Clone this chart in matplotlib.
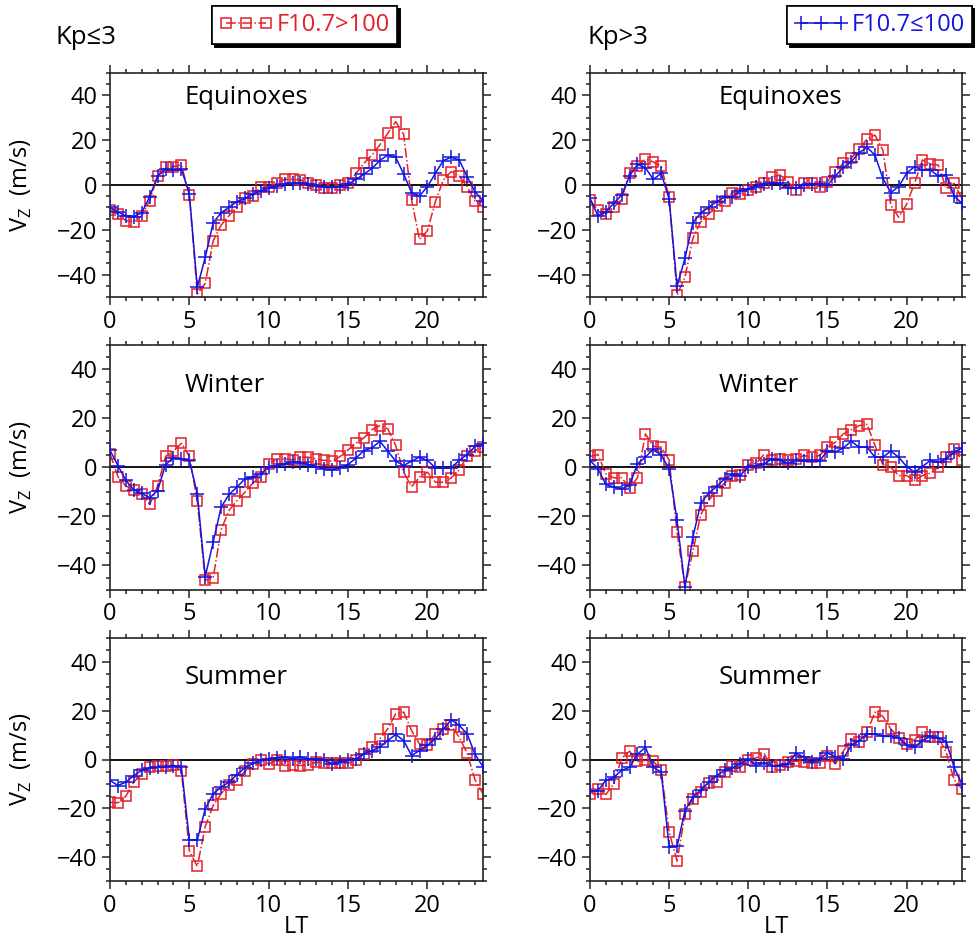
import numpy as np
import matplotlib
matplotlib.use("Agg")
import matplotlib.pyplot as plt
from matplotlib.lines import Line2D
from matplotlib.ticker import MultipleLocator

plt.rcParams['font.family'] = ['Open Sans', 'DejaVu Sans']
plt.rcParams['mathtext.fontset'] = 'custom'
plt.rcParams['mathtext.rm'] = 'Open Sans'

# Local time grid (hours)
local_time = np.arange(0, 24, 0.5)

# Vertical drift Vz (m/s); "hi" = F10.7>100, "lo" = F10.7<=100
# Kp<=3
eq_kplow_hi = [-11, -13, -15.9, -16.4, -13.7, -7.1, 4.2, 8.2, 8.2, 8.9, -4.5, -48.7, -43.9, -24.9, -17.9, -13.7,
               -9.7, -6.0, -4.9, -0.7, -0.7, 0.7, 2.5, 2.5, 2.2, 1.0, 0.0, -1.2, -1.2, 0.0, 1.0, 5.2,
               9.7, 13.4, 17.9, 23.1, 28.3, 22.6, -6.7, -24.3, -20.4, -7.4, 2.2, 6.0, 4.0, -0.7, -7.1, -9.7]
eq_kplow_lo = [-10, -12, -13.8, -14.1, -12.4, -5.2, 4.0, 7.0, 6.7, 7.0, -4.0, -45.7, -32.3, -16.8, -12.4, -10.0,
               -7.4, -6.0, -4.0, -2.5, -1.5, -0.3, 0.3, 0.7, 1.0, 0.4, -0.3, -0.7, -1.0, -0.7, 0.4, 2.5,
               4.8, 7.4, 10.9, 13.4, 12.4, 4.9, -3.4, -4.9, -0.7, 5.2, 10.9, 12.4, 11.2, 3.7, -3.0, -7.0]
wi_kplow_hi = [5.6, -3.7, -7.6, -9.0, -11.0, -15.1, -7.6, 4.5, 6.7, 9.9, 4.5, -13.7, -46.0, -45.0, -25.4, -17.5,
               -13.5, -10.1, -6.4, -3.7, 1.5, 3.5, 3.5, 3.1, 4.2, 4.2, 3.4, 2.9, 2.6, 4.5, 7.2, 9.9,
               12.1, 15.4, 17.1, 15.8, 9.0, -1.9, -7.8, -3.9, -1.9, -6.0, -6.0, -4.2, -1.0, 4.5, 6.9, 8.3]
wi_kplow_lo = [7.0, 0.8, -5.3, -9.1, -10.5, -12.4, -9.4, 1.2, 3.9, 3.5, 2.9, -10.7, -44.5, -30.5, -16.2, -11.0,
               -8.0, -4.6, -3.9, -2.6, 0.1, 0.8, 1.5, 2.2, 2.0, 1.2, 0.4, -0.7, -1.0, -0.1, 1.2, 3.9,
               6.9, 8.0, 10.7, 6.7, 2.6, 0.8, 2.6, 4.2, 2.9, -0.1, -0.1, -0.1, 2.9, 5.3, 8.6, 9.7]
su_kplow_hi = [-17.6, -17.8, -15.1, -9.3, -5.9, -3.2, -2.5, -2.5, -2.1, -4.8, -37.7, -44.0, -27.6, -18.9, -14.1, -10.3,
               -8.4, -4.8, -1.8, -0.4, -1.8, -0.4, -2.5, -2.1, -2.5, -2.1, -1.1, -1.5, -1.5, -1.5, -1.5, -0.4,
               2.3, 5.1, 8.5, 12.6, 18.8, 19.5, 11.9, 6.4, 5.8, 10.6, 12.6, 14.0, 9.2, 2.6, -8.4, -14.1]
su_kplow_lo = [-8.6, -10.7, -9.3, -6.6, -4.5, -3.4, -3.2, -3.2, -2.5, -3.2, -33.1, -33.1, -20.3, -14.1, -11.4, -9.3,
               -6.2, -3.4, -1.5, -0.4, 0.3, 0.7, 1.0, 0.3, 1.0, 0.3, 0.3, -0.4, -1.8, -1.1, -0.4, 0.3,
               2.3, 3.7, 5.1, 7.8, 10.3, 7.8, 1.6, 3.7, 5.8, 8.5, 12.6, 16.3, 14.0, 10.6, 2.1, -3.0]
# Kp>3
eq_kphigh_hi = [-6.7, -11.2, -12.9, -10.0, -6.4, 5.5, 8.5, 11.5, 10.3, 8.3, -5.5, -49.0, -41.2, -23.7, -16.4, -13.0,
                -9.4, -7.0, -3.4, -4.0, -2.2, -0.7, 1.0, 3.4, 4.5, 1.5, -2.2, 1.0, 1.0, -0.7, 1.5, 6.0,
                9.7, 11.9, 16.1, 20.5, 22.3, 15.6, -8.9, -14.4, -8.6, 0.7, 11.2, 9.3, 8.9, -1.5, 0.7, -6.0]
eq_kphigh_lo = [-6.0, -13.7, -11.9, -8.2, -4.5, 4.0, 9.2, 7.7, 2.5, 5.2, -6.4, -45.1, -32.7, -16.8, -12.4, -10.0,
                -7.4, -5.5, -5.2, -2.5, -1.9, -0.7, 0.3, 0.7, 0.7, -1.5, -1.5, 0.0, 0.4, 0.4, 0.0, 4.0,
                7.9, 10.4, 14.4, 16.8, 13.4, 3.0, -3.4, -0.7, 5.2, 8.2, 6.7, 6.7, 4.0, 4.5, -4.9, -8.2]
wi_kphigh_hi = [4.5, 5.3, -2.6, -4.2, -4.2, -8.3, -4.2, 13.7, 8.6, 8.3, 3.1, -26.4, -48.8, -34.1, -19.2, -13.5,
                -9.4, -6.4, -3.3, -2.9, 1.2, 1.8, 5.3, 2.9, 3.5, 2.9, 3.5, 4.9, 4.2, 4.9, 8.3, 10.3,
                13.7, 15.4, 17.1, 17.6, 9.0, 1.2, 0.1, -3.3, -3.3, -5.3, -3.3, -2.3, 0.1, 4.2, 7.6, 2.9]
wi_kphigh_lo = [2.9, -0.5, -6.9, -8.0, -8.7, -7.3, 1.5, 4.2, 7.6, 4.9, -0.5, -21.6, -48.6, -28.4, -14.6, -10.5,
                -7.8, -4.6, -2.6, -3.3, 0.4, 0.8, 1.5, 3.5, 2.9, 1.8, 2.9, 2.6, 2.9, 2.6, 6.9, 6.3,
                8.0, 10.7, 8.3, 8.3, 4.2, 4.2, 6.7, 4.2, 0.4, -1.9, 0.4, 2.9, 2.2, 3.5, 6.3, 8.0]
su_kphigh_hi = [-14.0, -12.1, -14.4, -10.0, 0.7, 3.4, -0.7, -0.4, -0.7, -4.5, -29.9, -41.8, -22.4, -16.2, -13.4, -9.7,
                -9.3, -5.2, -2.5, -3.2, -0.4, 0.7, 2.3, -2.9, -2.1, -1.1, -0.7, -1.1, -1.5, -1.5, 1.6, -1.8,
                3.4, 8.5, 7.1, 11.2, 19.5, 17.7, 12.6, 8.9, 6.4, 8.1, 11.2, 9.2, 9.2, 3.0, -8.4, -12.1]
su_kphigh_lo = [-12.8, -12.8, -8.6, -7.3, -4.5, -3.2, 2.1, 5.1, -3.2, -5.2, -36.1, -35.8, -21.0, -15.5, -12.5, -9.3,
                -6.6, -4.5, -3.4, -1.8, 0.3, -2.5, -1.5, -2.5, -2.5, -1.8, 2.6, 1.0, -1.1, 0.3, 2.6, 1.2,
                0.3, 5.8, 7.8, 10.3, 10.6, 9.5, 9.5, 8.9, 5.8, 5.1, 7.8, 9.5, 8.9, 7.4, -3.2, -10.3]

seasons = ["Equinoxes", "Winter", "Summer"]
column_titles = ["Kp\u22643", "Kp>3"]
label_hi = "F10.7>100"
label_lo = "F10.7\u2264100"

panels = [
    [(eq_kplow_hi, eq_kplow_lo), (eq_kphigh_hi, eq_kphigh_lo)],
    [(wi_kplow_hi, wi_kplow_lo), (wi_kphigh_hi, wi_kphigh_lo)],
    [(su_kplow_hi, su_kplow_lo), (su_kphigh_hi, su_kphigh_lo)],
]

RED = '#e3202a'
BLUE = '#1414e0'
W, H = 975, 940

fig = plt.figure(figsize=(W / 100, H / 100), dpi=100)

col_x = [(110, 483), (590, 962)]
row_y = [(73, 297), (345, 590), (638, 881)]
title_x = [4.7, 8.1]
title_y = [39.0, 33.5, 33.7]

for r in range(3):
    for c in range(2):
        x0, x1 = col_x[c]
        yt, yb = row_y[r]
        ax = fig.add_axes([x0 / W, 1 - yb / H, (x1 - x0) / W, (yb - yt) / H])
        hi, lo = panels[r][c]
        ax.axhline(0, color='black', lw=1.3, zorder=1)
        ax.plot(local_time, hi, color=RED, ls='-.', lw=1.1, marker='s', ms=7.5,
                mfc='none', mec=RED, mew=1.1, zorder=2)
        ax.plot(local_time, lo, color=BLUE, ls='-', lw=1.1, marker='+', ms=10,
                mew=1.1, zorder=3)
        ax.set_xlim(0, 23.5)
        ax.set_ylim(-50, 50)
        ax.xaxis.set_major_locator(MultipleLocator(5))
        ax.xaxis.set_minor_locator(MultipleLocator(1))
        ax.yaxis.set_major_locator(MultipleLocator(20))
        ax.yaxis.set_minor_locator(MultipleLocator(5))
        ax.tick_params(which='both', direction='out', top=True, right=True,
                       labelsize=17, width=1.1, color='#222222')
        ax.tick_params(which='major', length=6, pad=3)
        ax.tick_params(which='minor', length=3)
        for s in ax.spines.values():
            s.set_linewidth(1.2)
            s.set_color('#222222')
        ax.text(title_x[c], title_y[r], seasons[r], fontsize=18.5, ha='left', va='center')
        if c == 0:
            ax.set_ylabel('V$_{\\mathregular{Z}}$  (m/s)', fontsize=17)
            ax.yaxis.set_label_coords(-0.205, 0.5)
        if r == 2:
            ax.set_xlabel('LT', fontsize=17, labelpad=-2)

fig.text(55 / W, 1 - 37 / H, column_titles[0], fontsize=18.5, ha='left', va='center')
fig.text(587 / W, 1 - 37 / H, column_titles[1], fontsize=18.5, ha='left', va='center')

hi_handle = Line2D([], [], color=RED, ls='-.', lw=1.1, marker='s', ms=7.5, mfc='none', mec=RED, mew=1.1)
lo_handle = Line2D([], [], color=BLUE, ls='-', lw=1.1, marker='+', ms=10, mew=1.1)

shadow_props = {'facecolor': 'black', 'edgecolor': 'black', 'alpha': 1.0}
for handle, label, color, xpos in [(hi_handle, label_hi, RED, 212), (lo_handle, label_lo, BLUE, 787)]:
    leg = fig.legend([handle], [label], loc='upper left', bbox_to_anchor=(xpos / W, 1 - 6 / H),
                     bbox_transform=fig.transFigure, borderaxespad=0, fontsize=17,
                     numpoints=3, handlelength=2.3, handletextpad=0.15, borderpad=0.3,
                     fancybox=False, shadow=shadow_props, edgecolor='black', labelcolor=color)
    leg.get_frame().set_linewidth(1.2)
    fig.add_artist(leg)

fig.savefig('out.png', dpi=100)
